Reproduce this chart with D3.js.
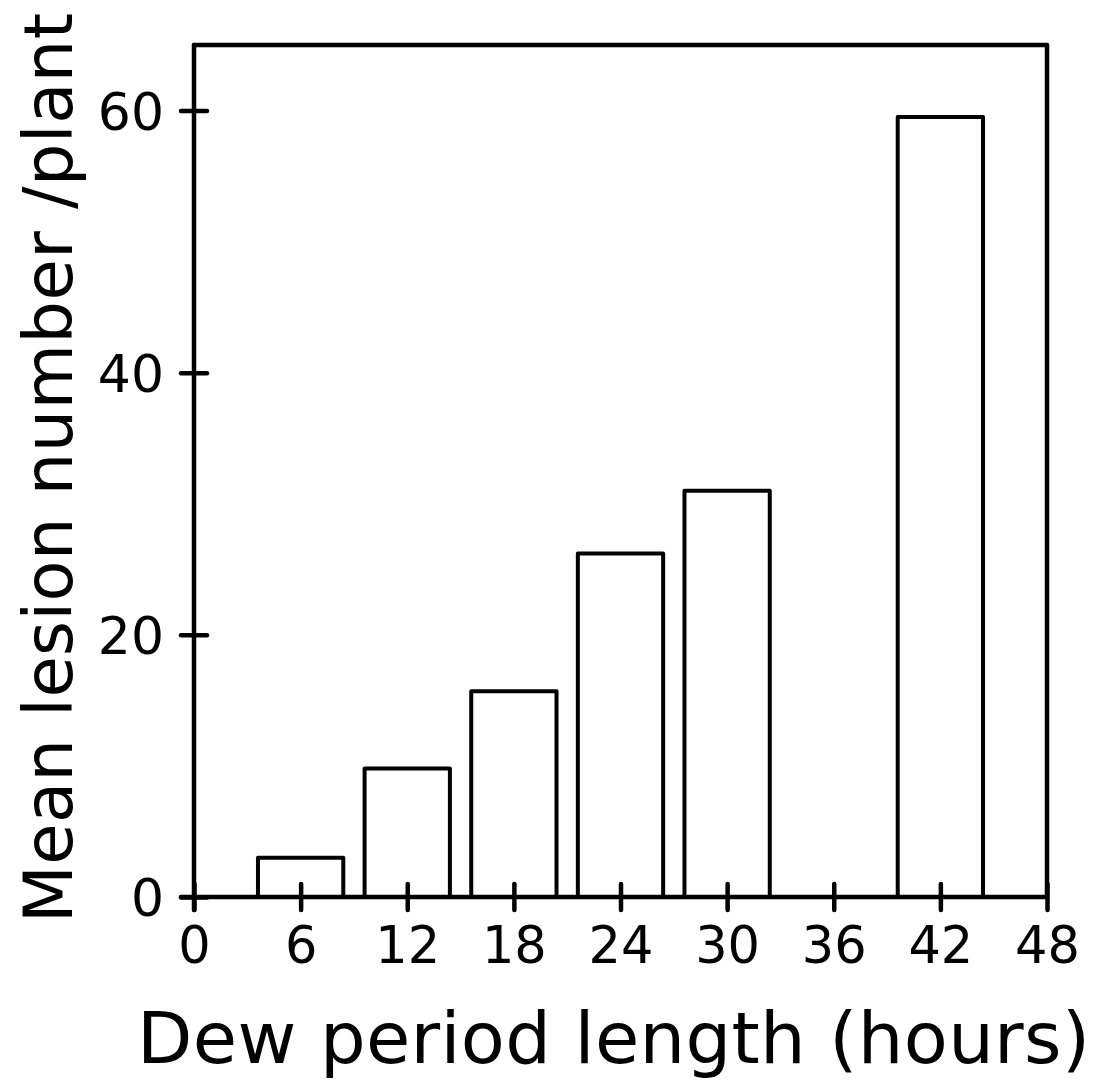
<!DOCTYPE html>
<html>
<head>
<meta charset="utf-8">
<script src="https://cdn.jsdelivr.net/npm/d3@7"></script>
<style>
  body { margin: 0; background: #fff; }
  text { font-family: "DejaVu Sans", sans-serif; fill: #000; }
</style>
</head>
<body>
<script>
'use strict'

// dew period (hours) and mean lesion number per plant
const hours = [6, 12, 18, 24, 30, 42]
const lesions = [3.0, 9.8, 15.7, 26.2, 31.0, 59.5]
const xTicks = [0, 6, 12, 18, 24, 30, 36, 42, 48]
const yTicks = [0, 20, 40, 60]
const barWidthHours = 4.8

const W = 1109, H = 1085
const plotLeft = 194, plotRight = 1047, plotTop = 45, plotBottom = 897
const tickLen = 13

const svg = d3.select("body").append("svg")
    .attr("width", W)
    .attr("height", H)

const x = d3.scaleLinear().domain([0, 48]).range([plotLeft, plotRight])
const y = d3.scaleLinear().domain([0, 65]).range([plotBottom, plotTop])

// bars first so the axes sit on top of their bottom edge
svg.selectAll("rect.bar")
    .data(hours)
    .enter()
    .append("rect")
    .attr("class", "bar")
    .attr("x", d => x(d - barWidthHours / 2))
    .attr("width", d => x(d + barWidthHours / 2) - x(d - barWidthHours / 2))
    .attr("y", (d, i) => y(lesions[i]))
    .attr("height", (d, i) => y(0) - y(lesions[i]))
    .attr("fill", "#fff")
    .attr("stroke", "#000")
    .attr("stroke-width", 4)
    .attr("stroke-linejoin", "round")

// frame top and right
svg.append("path")
    .attr("d", `M${plotLeft},${plotTop}H${plotRight}V${plotBottom}`)
    .attr("fill", "none")
    .attr("stroke", "#000")
    .attr("stroke-width", 4.5)
    .attr("stroke-linecap", "round")
    .attr("stroke-linejoin", "round")

// x axis, ticks cross the line
const xAxis = svg.append("g")
    .attr("transform", `translate(0,${plotBottom})`)
    .call(d3.axisBottom(x).tickValues(xTicks).tickSize(tickLen).tickSizeOuter(0).tickPadding(0))
xAxis.select(".domain").remove()
xAxis.selectAll(".tick line")
    .attr("y1", -tickLen).attr("y2", tickLen)
    .attr("stroke", "#000").attr("stroke-width", 4.5).attr("stroke-linecap", "round")
xAxis.selectAll(".tick text")
    .attr("y", 66)
    .attr("dy", 0)
    .style("font-size", "51px")
svg.append("line")
    .attr("x1", plotLeft - tickLen).attr("x2", plotRight)
    .attr("y1", plotBottom).attr("y2", plotBottom)
    .attr("stroke", "#000").attr("stroke-width", 4.5).attr("stroke-linecap", "round")

// y axis
const yAxis = svg.append("g")
    .attr("transform", `translate(${plotLeft},0)`)
    .call(d3.axisLeft(y).tickValues(yTicks).tickSize(tickLen).tickSizeOuter(0).tickPadding(0))
yAxis.select(".domain").remove()
yAxis.selectAll(".tick line")
    .attr("x1", -tickLen).attr("x2", tickLen)
    .attr("stroke", "#000").attr("stroke-width", 4.5).attr("stroke-linecap", "round")
yAxis.selectAll(".tick text")
    .attr("x", -30)
    .attr("dy", "0.36em")
    .style("font-size", "52px")
svg.append("line")
    .attr("x1", plotLeft).attr("x2", plotLeft)
    .attr("y1", plotTop).attr("y2", plotBottom + tickLen)
    .attr("stroke", "#000").attr("stroke-width", 4.5).attr("stroke-linecap", "round")

// axis titles
svg.append("text")
    .attr("x", 137)
    .attr("y", 1063)
    .attr("textLength", 953)
    .attr("lengthAdjust", "spacing")
    .style("font-size", "72px")
    .text("Dew period length (hours)")

svg.append("text")
    .attr("transform", "translate(72,923) rotate(-90)")
    .attr("textLength", 910)
    .attr("lengthAdjust", "spacing")
    .style("font-size", "67px")
    .text("Mean lesion number /plant")
</script>
</body>
</html>
